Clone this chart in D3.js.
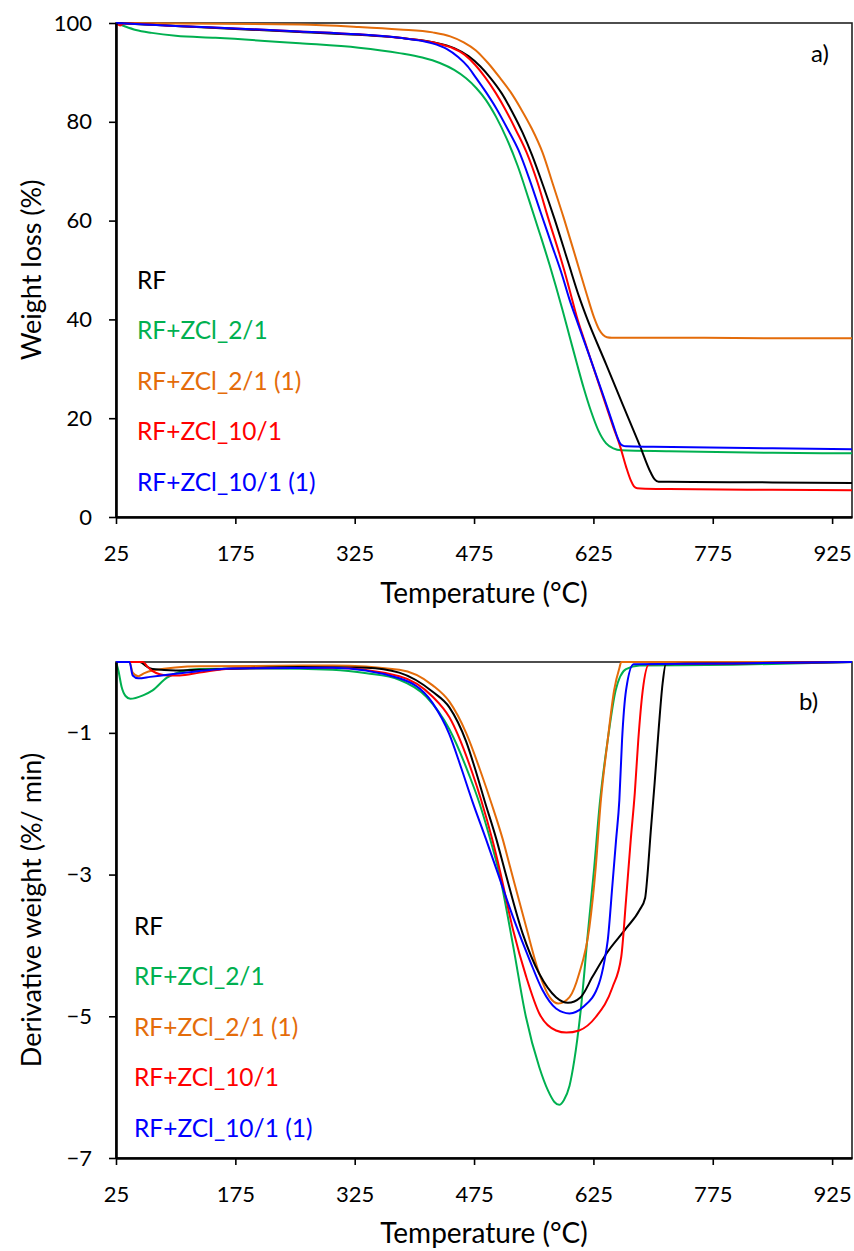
<!DOCTYPE html>
<html>
<head>
<meta charset="utf-8">
<script src="https://cdn.jsdelivr.net/npm/d3@7"></script>
<style>
  body { margin: 0; background: #fff; }
  svg { display: block; font-family: Lato, "Open Sans", sans-serif; }
</style>
</head>
<body>
<svg id="chart" width="854" height="1251"></svg>
<script>
// ---------------- DATA ----------------
const seriesNames = ["RF", "RF+ZCl_2/1", "RF+ZCl_2/1 (1)", "RF+ZCl_10/1", "RF+ZCl_10/1 (1)"];
const seriesColors = ["#000000", "#00B050", "#E46C0A", "#FF0000", "#0000FF"];
const xTicks = [25, 175, 325, 475, 625, 775, 925];
const yTicksTop = [0, 20, 40, 60, 80, 100];
const yTicksBottom = [-1, -3, -5, -7];

// TGA: [temperature °C, weight %]
const tgaRF = [[25,100],[60,99.7],[100,99.4],[175,98.8],[256,98.2],[330,97.6],[381,97.0],[423,96.1],[450,94.9],[468,93.3],[483,91.2],[496,88.8],[510,85.7],[523,82.0],[536,77.8],[548,73.2],[562,67.0],[576,60.4],[594,51.2],[607,44.6],[616,40.6],[641,30.9],[662,22.7],[683,14.6],[697,9.0],[702,7.6],[707,7.15],[750,7.1],[850,7.0],[950,6.9]];
const tgaZ21 = [[25,100],[35,99.4],[50,98.6],[70,98],[100,97.4],[150,97],[256,95.9],[330,95.0],[381,93.9],[410,93.0],[432,91.9],[450,90.5],[465,88.8],[478,86.8],[490,84.4],[503,80.9],[516,76.6],[530,71.0],[544,64.2],[558,57.2],[570,51.0],[578,46.6],[586,42.0],[595,36.6],[605,30.6],[613,26.0],[622,21.4],[631,17.6],[641,14.9],[650,13.9],[660,13.5],[720,13.3],[850,13.0],[950,12.9]];
const tgaZ21b = [[25,100],[100,99.9],[256,99.7],[330,99.2],[381,98.7],[423,98.1],[445,97.3],[462,96.1],[477,94.5],[492,92.0],[508,88.8],[521,86.0],[534,82.6],[547,78.8],[561,73.8],[574,67.4],[588,60.4],[603,52.4],[616,45.4],[626,40.3],[632,38.0],[637,36.9],[642,36.4],[648,36.3],[700,36.3],[850,36.2],[950,36.2]];
const tgaZ101 = [[25,100],[30,99.5],[35,99.9],[100,99.4],[175,98.9],[256,98.3],[330,97.7],[381,97.0],[423,96.1],[447,95.0],[463,93.6],[476,91.6],[489,89.0],[502,85.9],[515,82.3],[528,78.2],[541,73.8],[555,67.6],[568,60.6],[582,53.4],[590,49.0],[597,44.8],[604,40.6],[614,35.6],[623,31.2],[640,23.0],[650,18.2],[658,14.6],[666,10.2],[672,7.4],[676,6.2],[680,5.8],[690,5.7],[720,5.65],[850,5.5],[950,5.4]];
const tgaZ101b = [[25,100],[100,99.4],[175,98.9],[256,98.3],[330,97.7],[381,97.0],[420,96.0],[440,94.8],[455,93.1],[467,91.2],[477,89.0],[490,86.0],[503,82.7],[517,78.6],[531,74.2],[545,68.2],[558,62.0],[572,55.4],[586,48.8],[595,44.0],[603,40.3],[620,32.6],[637,24.8],[650,18.6],[656,15.8],[659,14.8],[662,14.45],[666,14.3],[700,14.2],[850,13.9],[950,13.7]];

// DTG: [temperature °C, derivative weight %/min]
const dtgRF = [[25,0],[55,0],[63,-0.06],[71,-0.10],[100,-0.12],[130,-0.11],[256,-0.07],[340,-0.08],[381,-0.15],[423,-0.42],[444,-0.64],[465,-1.12],[478,-1.57],[488,-1.95],[503,-2.5],[515,-3.0],[536,-3.83],[557,-4.40],[578,-4.73],[593,-4.81],[609,-4.73],[624,-4.44],[641,-4.12],[666,-3.76],[683,-3.50],[690,-3.33],[693,-3.0],[697,-2.4],[702,-1.7],[707,-0.95],[712,-0.3],[716,-0.03],[800,-0.02],[950,0]];
const dtgZ21 = [[25,0],[28,-0.12],[32,-0.35],[37,-0.48],[43,-0.52],[59,-0.47],[71,-0.40],[89,-0.22],[105,-0.14],[130,-0.10],[215,-0.09],[297,-0.11],[340,-0.16],[381,-0.25],[415,-0.49],[444,-0.95],[469,-1.6],[482,-2.0],[494,-2.45],[507,-3.0],[524,-4.0],[540,-5.0],[557,-5.72],[568,-6.05],[576,-6.21],[582,-6.25],[588,-6.18],[595,-5.98],[601,-5.62],[609.5,-4.87],[618,-3.83],[626,-2.9],[633,-2.0],[643,-1.10],[653,-0.40],[666,-0.1],[683,-0.05],[800,-0.04],[950,0]];
const dtgZ21b = [[25,0],[42,0],[46,-0.15],[53,-0.2],[60,-0.16],[71,-0.12],[130,-0.06],[297,-0.05],[381,-0.11],[423,-0.33],[444,-0.56],[465,-1.0],[484,-1.57],[497,-2.0],[511,-2.5],[520,-2.88],[540,-3.72],[557,-4.40],[570,-4.73],[581,-4.82],[595,-4.73],[607,-4.40],[620,-3.74],[628,-2.89],[634,-2.0],[643,-1.10],[651,-0.40],[658,-0.07],[660,0],[950,0]];
const dtgZ101 = [[25,0],[59,0],[64,-0.06],[71,-0.13],[89,-0.19],[105,-0.19],[130,-0.15],[172,-0.09],[297,-0.08],[381,-0.2],[423,-0.49],[444,-0.78],[473,-1.57],[484,-1.95],[498,-2.51],[507,-2.92],[524,-3.78],[540.5,-4.44],[557,-4.96],[578,-5.20],[591,-5.23],[607,-5.20],[628,-5.01],[649,-4.59],[660,-4.16],[666,-3.36],[672,-2.5],[677,-1.85],[681.4,-1.10],[687,-0.40],[695,-0.03],[800,-0.02],[950,0]];
const dtgZ101b = [[25,0],[42,0],[46,-0.19],[53,-0.23],[68,-0.21],[97,-0.17],[172,-0.09],[297,-0.08],[381,-0.23],[423,-0.58],[444,-1.02],[459,-1.5],[473,-1.97],[490,-2.5],[503,-2.92],[524,-3.60],[545,-4.21],[561,-4.63],[578,-4.89],[595,-4.96],[612,-4.87],[632,-4.54],[639,-4.21],[643,-3.93],[649,-3.13],[653.5,-2.51],[657.6,-1.95],[661,-1.10],[666,-0.40],[675.5,-0.03],[800,-0.02],[950,0]];

const tgaSeries = [tgaRF, tgaZ21, tgaZ21b, tgaZ101, tgaZ101b];
const dtgSeries = [dtgRF, dtgZ21, dtgZ21b, dtgZ101, dtgZ101b];
// draw order (back to front) as seen in the picture
const drawOrder = [1, 2, 0, 3, 4];

// ---------------- DRAW ----------------
const svg = d3.select("#chart");
const fmtMinus = d => (d < 0 ? "\u2212" + Math.abs(d) : String(d));

function panel(opts) {
  const { left, right, top, bottom, yDomain, yTicks, data, yTitle, tag, tagPos, legendX, legendY0, legendStep, xTitleY, id } = opts;
  const x = d3.scaleLinear().domain([25, 950]).range([left, right]);
  const y = d3.scaleLinear().domain(yDomain).range([bottom, top]);
  const g = svg.append("g");

  g.append("clipPath").attr("id", "clip" + id)
    .append("rect").attr("x", left).attr("y", top - 2).attr("width", right - left).attr("height", bottom - top + 2);

  // frame
  g.append("rect").attr("x", left).attr("y", top).attr("width", right - left).attr("height", bottom - top)
    .attr("fill", "none").attr("stroke", "#222").attr("stroke-width", 1.6);

  const line = d3.line().x(d => x(d[0])).y(d => y(d[1])).curve(d3.curveMonotoneX);
  const lines = g.append("g").attr("clip-path", `url(#clip${id})`);
  drawOrder.forEach(i => {
    lines.append("path").datum(data[i]).attr("d", line)
      .attr("fill", "none").attr("stroke", seriesColors[i]).attr("stroke-width", 2)
      .attr("stroke-linejoin", "round");
  });

  // axes
  const xAxis = d3.axisBottom(x).tickValues(xTicks).tickSize(7).tickPadding(21).tickSizeOuter(0);
  const gx = g.append("g").attr("transform", `translate(0,${bottom})`).call(xAxis);
  gx.select(".domain").attr("stroke", "#000").attr("stroke-width", 2.6);
  gx.selectAll(".tick line").attr("stroke", "#000").attr("stroke-width", 1.6);
  gx.selectAll("text").attr("font-size", 22).attr("fill", "#000").attr("font-family", "Lato");

  const yAxis = d3.axisLeft(y).tickValues(yTicks).tickSize(7).tickPadding(17).tickSizeOuter(0).tickFormat(fmtMinus);
  const gy = g.append("g").attr("transform", `translate(${left},0)`).call(yAxis);
  gy.select(".domain").attr("stroke", "#000").attr("stroke-width", 2.6);
  gy.selectAll(".tick line").attr("stroke", "#000").attr("stroke-width", 1.6);
  gy.selectAll("text").attr("font-size", 22).attr("fill", "#000").attr("font-family", "Lato");

  // titles
  g.append("text").attr("x", (left + right) / 2).attr("y", xTitleY).attr("text-anchor", "middle")
    .attr("dominant-baseline", "central")
    .attr("font-size", 28).attr("fill", "#000").text("Temperature (\u00B0C)");
  g.append("text").attr("transform", `translate(30,${(top + bottom) / 2}) rotate(-90)`)
    .attr("text-anchor", "middle").attr("dominant-baseline", "central")
    .attr("font-size", 27).attr("fill", "#000").text(yTitle);
  g.append("text").attr("x", tagPos[0]).attr("y", tagPos[1]).attr("font-size", 24).attr("fill", "#000")
    .attr("dominant-baseline", "central").text(tag);

  // legend labels
  seriesNames.forEach((n, i) => {
    g.append("text").attr("x", legendX).attr("y", legendY0 + i * legendStep)
      .attr("dominant-baseline", "central").attr("font-size", 24.5).attr("fill", seriesColors[i]).text(n);
  });
}

panel({ id: "a", left: 116, right: 852, top: 23, bottom: 517, yDomain: [0, 100], yTicks: yTicksTop,
  data: tgaSeries, yTitle: "Weight loss (%)", tag: "a)", tagPos: [811, 52],
  legendX: 137, legendY0: 279, legendStep: 50.5, xTitleY: 592 });
panel({ id: "b", left: 116, right: 852, top: 662, bottom: 1158, yDomain: [-7, 0], yTicks: yTicksBottom,
  data: dtgSeries, yTitle: "Derivative weight (%/ min)", tag: "b)", tagPos: [799, 700],
  legendX: 134, legendY0: 925, legendStep: 50.5, xTitleY: 1232 });
</script>
</body>
</html>
